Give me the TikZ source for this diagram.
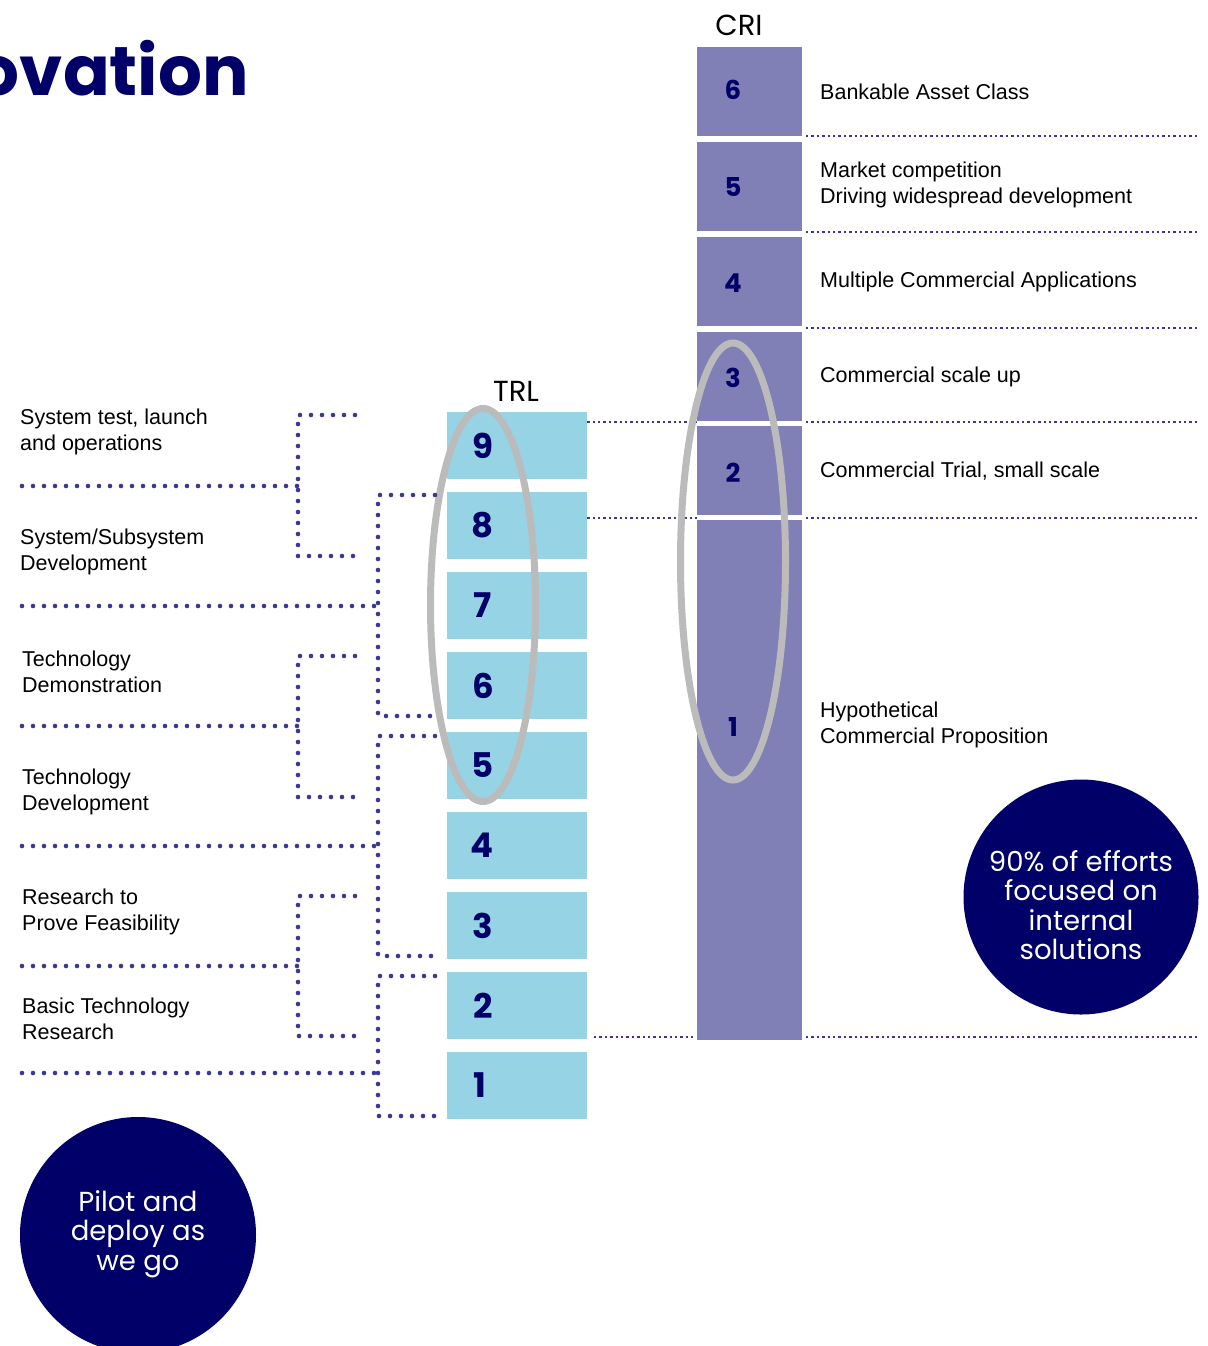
\documentclass[tikz,border=0pt]{standalone}
\usepackage{fontspec}
\setmainfont{Liberation Sans}
\newfontfamily\pop{Poppins}
\usepackage{tikz}

\definecolor{navy}{RGB}{0,0,104}
\definecolor{trlblue}{RGB}{150,212,229}
\definecolor{cripurple}{RGB}{128,128,182}
\definecolor{dotblue}{RGB}{58,56,146}
\definecolor{ringgrey}{RGB}{187,187,187}

\tikzset{
  trlbox/.style={fill=trlblue, minimum width=140pt, minimum height=67pt, inner sep=0pt},
  cribox/.style={fill=cripurple, minimum width=105pt, inner sep=0pt},
  trlnum/.style={text=navy, font=\pop\bfseries\fontsize{34}{34}\selectfont, inner sep=0pt},
  crinum/.style={text=navy, font=\pop\bfseries\fontsize{26}{26}\selectfont, inner sep=0pt},
  sidetext/.style={anchor=west, align=left, inner sep=0pt, font=\fontsize{21.5}{26}\selectfont},
  bigdots/.style={dotblue, line width=4.6pt, line cap=round, dash pattern=on 0pt off 11pt},
  smalldots/.style={dotblue, line width=2.4pt, dash pattern=on 2.4pt off 3pt},
  ring/.style={ringgrey, line width=7pt},
  bubble/.style={circle, fill=navy, inner sep=0pt},
  bubbletext/.style={text=white, align=center, inner sep=0pt,
    font=\pop\fontsize{27.5}{29.5}\selectfont}
}

\begin{document}
\begin{tikzpicture}[x=1pt,y=-1pt]
\useasboundingbox (0,0) rectangle (1207,1346);
\clip (0,0) rectangle (1207,1346);

% title, cut at the left edge
\node [anchor=base east, inner sep=0pt, text=navy, font=\pop\bfseries\fontsize{69}{69}\selectfont] (title) at (249,95) {ovation};

% CRI column
\node [font=\pop\fontsize{29}{29}\selectfont, inner sep=0pt] (cri) at (739,25) {CRI};
\node [cribox, minimum height=89pt] (c6) at (749.5,91.5) {};
\node [cribox, minimum height=89pt] (c5) at (749.5,186.5) {};
\node [cribox, minimum height=89pt] (c4) at (749.5,281.5) {};
\node [cribox, minimum height=89pt] (c3) at (749.5,376.5) {};
\node [cribox, minimum height=89pt] (c2) at (749.5,470.5) {};
\node [cribox, minimum height=520pt] (c1) at (749.5,780) {};
\node [crinum] (n6) at (733,90) {6};
\node [crinum] (n5) at (733,187) {5};
\node [crinum] (n4) at (733,283) {4};
\node [crinum] (n3) at (733,378) {3};
\node [crinum] (n2) at (733,473) {2};
\node [crinum] (n1) at (733,727) {1};

\node [sidetext] (l6) at (820,92) {Bankable Asset Class};
\node [sidetext] (l5) at (820,184.5) {Market competition\\Driving widespread development};
\node [sidetext] (l4) at (820,282) {Multiple Commercial Applications};
\node [sidetext] (l3) at (820,377) {Commercial scale up};
\node [sidetext] (l2) at (820,471) {Commercial Trial, small scale};
\node [sidetext] (l1) at (820,724.5) {Hypothetical\\Commercial Proposition};

\coordinate (e6) at (1200,136);
\coordinate (e5) at (1200,232);
\coordinate (e4) at (1200,328);
\coordinate (e3) at (1200,422);
\coordinate (e2) at (1200,518);
\coordinate (e1) at (1200,1037);
\draw [smalldots] (806,136) -- (e6);
\draw [smalldots] (806,232) -- (e5);
\draw [smalldots] (806,328) -- (e4);
\draw [smalldots] (806,422) -- (e3);
\draw [smalldots] (806,518) -- (e2);
\draw [smalldots] (806,1037) -- (e1);

% TRL column
\node [font=\pop\fontsize{29}{29}\selectfont, inner sep=0pt] (trl) at (516,391) {TRL};
\node [trlbox] (t9) at (517,445.5) {};
\node [trlbox] (t8) at (517,525.5) {};
\node [trlbox] (t7) at (517,605.5) {};
\node [trlbox] (t6) at (517,685.5) {};
\node [trlbox] (t5) at (517,765.5) {};
\node [trlbox] (t4) at (517,845.5) {};
\node [trlbox] (t3) at (517,925.5) {};
\node [trlbox] (t2) at (517,1005.5) {};
\node [trlbox] (t1) at (517,1085.5) {};
\node [trlnum] at (483,445.5) {9};
\node [trlnum] at (483,525.5) {8};
\node [trlnum] at (483,605.5) {7};
\node [trlnum] at (483,685.5) {6};
\node [trlnum] at (483,765.5) {5};
\node [trlnum] at (482,845.5) {4};
\node [trlnum] at (483,925.5) {3};
\node [trlnum] at (483,1005.5) {2};
\node [trlnum] at (480,1085.5) {1};

\draw [smalldots] (t9.east |- 0,422) -- (c3.west |- 0,422);
\draw [smalldots] (t8.east |- 0,518) -- (c2.west |- 0,518);
\draw [smalldots] (594,1037) -- (693,1037);

% rings
\draw [ring] (483,605) ellipse [x radius=52.5, y radius=196.5];
\draw [ring] (733,561.5) ellipse [x radius=52.5, y radius=218.5];

% stage labels on the left
\node [sidetext] (s1) at (20,432) {System test, launch\\and operations};
\node [sidetext] (s2) at (20,552) {System/Subsystem\\Development};
\node [sidetext] (s3) at (22,672) {Technology\\Demonstration};
\node [sidetext] (s4) at (22,792) {Technology\\Development};
\node [sidetext] (s5) at (22,912) {Research to\\Prove Feasibility};
\node [sidetext] (s6) at (22,1019) {Basic Technology\\Research};

\draw [bigdots] (22,486) -- (298,486);
\draw [bigdots] (22,606) -- (378,606);
\draw [bigdots] (22,726) -- (298,726);
\draw [bigdots] (22,846) -- (378,846);
\draw [bigdots] (22,966) -- (298,966);
\draw [bigdots] (22,1073) -- (378,1073);

\draw [bigdots] (355,415) -- (298,415) -- (298,556) -- (355,556);
\draw [bigdots] (435,495) -- (378,495) -- (378,716) -- (435,716);
\draw [bigdots] (355,656) -- (298,656) -- (298,797) -- (355,797);
\draw [bigdots] (435,736) -- (378,736) -- (378,956) -- (435,956);
\draw [bigdots] (355,896) -- (298,896) -- (298,1036) -- (355,1036);
\draw [bigdots] (435,976) -- (378,976) -- (378,1116) -- (435,1116);

% bubbles
\node [bubble, minimum size=235pt] (focus) at (1081,897) {};
\node [bubbletext] (focustext) at (1081,905) {90\% of efforts\\focused on\\internal\\solutions};
\node [bubble, minimum size=236pt] (pilot) at (138,1235) {};
\node [bubbletext] (pilottext) at (138,1234) {Pilot and\\deploy as\\we go};
\end{tikzpicture}
\end{document}
